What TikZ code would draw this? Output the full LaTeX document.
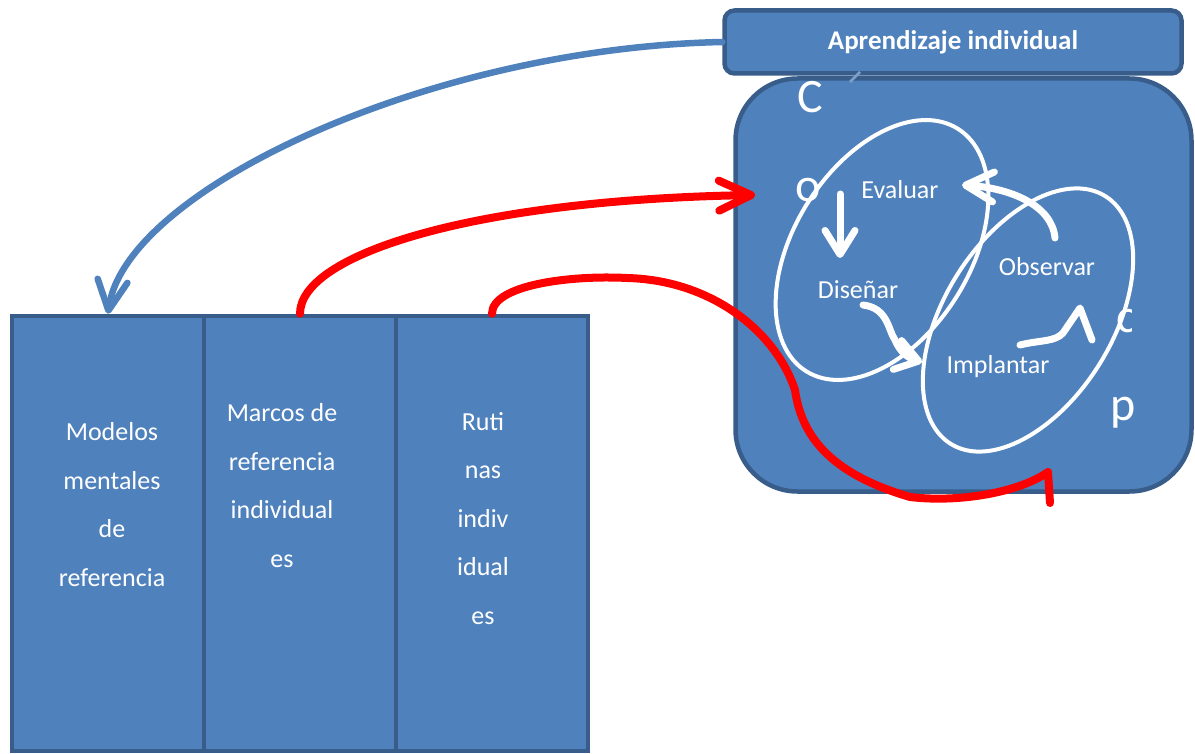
\documentclass[tikz,border=0pt]{standalone}
\usepackage{fontspec}
\setmainfont{Carlito}
\usetikzlibrary{arrows.meta,shapes.geometric}
\definecolor{azul}{HTML}{4F81BD}
\definecolor{borde}{HTML}{385D8A}
\definecolor{rojo}{HTML}{FF0000}
\begin{document}
\begin{tikzpicture}[x=1pt,y=-1pt,
  panel/.style={draw=borde, fill=azul, line width=4.5pt},
  colbox/.style={panel, minimum width=192pt, minimum height=435pt, inner sep=0pt},
  coltext/.style={text=white, align=center, font=\fontsize{26}{48.5}\selectfont, inner sep=0pt},
  lbl/.style={text=white, font=\fontsize{26}{31}\selectfont, inner sep=0pt},
  frag/.style={text=white, font=\fontsize{48}{48}\selectfont, inner sep=0pt},
  loopline/.style={draw=white, line width=4pt, ellipse, inner sep=0pt},
  wflow/.style={draw=white, line width=7pt, line cap=round, line join=round},
  rflow/.style={draw=rojo, line width=8pt, line cap=round, line join=round},
  bflow/.style={draw=azul, line width=6.5pt, line cap=round, line join=round},
  barb/.style={-{Straight Barb[length=#1, width=30pt, round]}}]

\useasboundingbox (0,0) rectangle (1195,754);

% three columns
\node[colbox] (m1) at (108,533.5) {};
\node[colbox] (m2) at (300,533.5) {};
\node[colbox] (m3) at (492,533.5) {};
\node[coltext] (t1) at (112,504.5) {Modelos\\mentales\\de\\referencia};
\node[coltext] (t2) at (282,485.5) {Marcos de\\referencia\\individual\\es};
\node[coltext] (t3) at (483,518.5) {Ruti\\nas\\indiv\\idual\\es};

% learning cycle panel and its title
\node[panel, rounded corners=62pt, minimum width=456pt, minimum height=413pt, inner sep=0pt] (ciclo) at (963.5,285) {};
\node[panel, rounded corners=10pt, minimum width=457pt, minimum height=63pt, inner sep=0pt,
      text=white, font=\bfseries\fontsize{27}{31}\selectfont] (titulo) at (953,42) {Aprendizaje individual};
\draw[draw=azul!75!white, line width=2.5pt] (860,72) -- (850,82);

% stray letters inside the panel
\node[frag] (fc) at (810,97) {C};
\node[frag] (fo) at (808,190) {o};
\begin{scope}
  \clip (1100,290) rectangle (1131,340);
  \node[frag] (ft) at (1127,321) {c};
\end{scope}
\node[frag] (fp) at (1123,413) {p};

% the two loops
\node[loopline, minimum width=286pt, minimum height=176pt, rotate=58] (e1) at (882,250) {};
\node[loopline, minimum width=292pt, minimum height=168pt, rotate=58] (e2) at (1028,320) {};

% step labels
\node[lbl] (ev) at (900,190) {Evaluar};
\node[lbl] (di) at (858,290) {Diseñar};
\node[lbl] (ob) at (1047,267) {Observar};
\node[lbl] (im) at (998,367) {Implantar};

% cycle arrows
\coordinate (evA) at (840,194);
\coordinate (evB) at (840,258);
\draw[wflow, barb=24pt] (evA) -- (evB);
\coordinate (diA) at (863,305);
\coordinate (imA) at (922,362);
\draw[wflow, barb=22pt] (diA) .. controls (888,308) and (888,330) .. (895,340)
      .. controls (900,352) and (908,358) .. (imA);
\coordinate (imB) at (1020,345);
\coordinate (obA) at (1080,308);
\draw[wflow] (imB) .. controls (1040,340) and (1055,342) .. (1063,333) -- (obA) -- (1092,340);
\coordinate (obB) at (1055,238);
\coordinate (evC) at (962,185);
\draw[wflow, barb=28pt] (obB) .. controls (1052,205) and (1010,188) .. (evC);

% links between the panel and the columns
\draw[bflow, barb=30pt] (titulo.west) .. controls (430,48) and (125,190) .. (m1.north);
\coordinate (entrada) at (755,195);
\draw[rflow, barb=32pt] (m2.north) .. controls (300,255) and (470,200) .. (entrada);
\coordinate (vuelta) at (1048,472);
\draw[rflow] (m3.north) .. controls (492,285) and (570,275) .. (627,278)
      .. controls (710,280) and (775,330) .. (795,390)
      .. controls (802,440) and (835,475) .. (910,497)
      .. controls (960,503) and (1020,492) .. (vuelta) -- (1050,503);
\end{tikzpicture}
\end{document}
